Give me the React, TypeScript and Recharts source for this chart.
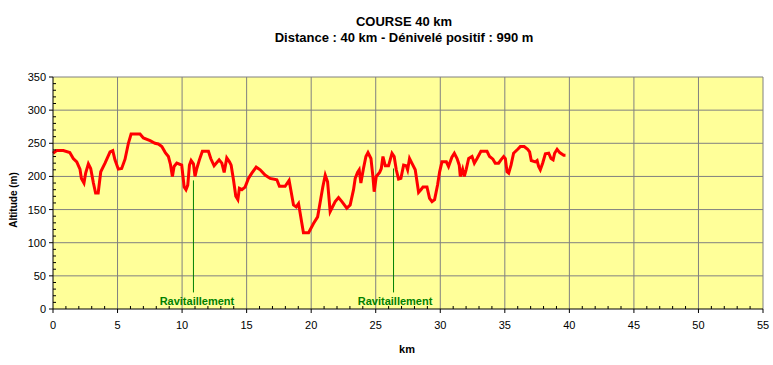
import React from 'react';
import {
  LineChart,
  Line,
  XAxis,
  YAxis,
  CartesianGrid,
  ReferenceLine,
  ReferenceDot,
} from 'recharts';

// distance (km) and altitude (m)
const distances = [
  0, 0.28, 0.8, 1.3, 1.57, 1.84, 2.09, 2.2, 2.4, 2.53, 2.74, 2.92, 3.13, 3.3, 3.5, 3.7, 4.03, 4.42, 4.63, 4.8,
  5.06, 5.32, 5.58, 5.84, 6.05, 6.74, 7.0, 7.52, 7.9, 8.16, 8.43, 8.7, 8.94, 9.1, 9.25, 9.38, 9.59, 9.97,
  10.16, 10.3, 10.44, 10.57, 10.7, 10.88, 11.0, 11.14, 11.34, 11.57, 12.04, 12.22, 12.48, 12.87, 13.08, 13.26,
  13.46, 13.67, 13.8, 13.98, 14.16, 14.32, 14.44, 14.63, 14.88, 15.14, 15.4, 15.74, 16.05, 16.43, 16.82, 17.34,
  17.54, 17.98, 18.29, 18.42, 18.63, 18.84, 19.02, 19.15, 19.4, 19.8, 20.18, 20.5, 20.75, 20.9, 21.09, 21.27,
  21.47, 21.6, 21.86, 22.12, 22.38, 22.76, 23.02, 23.28, 23.41, 23.59, 23.72, 23.85, 24.05, 24.24, 24.4, 24.63,
  24.78, 24.88, 25.04, 25.3, 25.43, 25.56, 25.74, 25.99, 26.26, 26.43, 26.59, 26.77, 26.95, 27.16, 27.36, 27.47,
  27.62, 27.8, 28.06, 28.32, 28.5, 28.66, 28.97, 29.17, 29.36, 29.56, 29.79, 29.95, 30.13, 30.47, 30.64, 30.9,
  31.09, 31.3, 31.47, 31.55, 31.73, 31.86, 32.0, 32.2, 32.46, 32.64, 32.85, 33.15, 33.62, 33.82, 34.08, 34.26,
  34.52, 34.7, 34.91, 35.04, 35.17, 35.3, 35.48, 35.68, 36.0, 36.2, 36.5, 36.77, 36.92, 37.05, 37.36, 37.5,
  37.62, 37.75, 37.93, 38.14, 38.4, 38.58, 38.74, 38.86, 39.05, 39.25, 39.56, 39.7,
];
const altitudes = [
  235, 239, 239, 236, 227, 222, 211, 197, 190, 205, 219, 212, 190, 175, 175, 207, 220, 237, 239, 225,
  211, 212, 226, 250, 264, 264, 258, 254, 250, 249, 245, 236, 230, 218, 200, 215, 220, 217,
  184, 180, 187, 217, 224, 219, 200, 212, 225, 238, 238, 227, 216, 225, 220, 206,
  228, 222, 217, 195, 170, 165, 182, 180, 184, 197, 205, 214, 210, 202, 197, 195,
  185, 185, 194, 180, 157, 154, 159, 144, 115, 115, 129, 139, 167, 184, 202, 192,
  147, 152, 162, 168, 162, 152, 157, 180, 197, 206, 210, 190, 212, 230, 236, 227,
  200, 177, 200, 206, 212, 230, 216, 216, 235, 230, 210, 196, 197, 217, 216, 210,
  227, 220, 210, 176, 180, 184, 184, 167, 162, 165, 187, 207, 222, 222, 215, 229,
  235, 227, 217, 200, 211, 200, 210, 227, 230, 220, 227, 238, 238, 230, 226, 220,
  220, 225, 230, 227, 207, 205, 217, 235, 241, 245, 245, 241, 237, 224, 222, 224,
  215, 210, 220, 234, 235, 227, 225, 235, 241, 236, 232, 232,
];

// supply points: km, top of marker line, label km
const supplyKm = [10.88, 26.38];
const supplyTop = [194, 212];
const supplyLabelKm = [11.15, 26.5];

const xTicks = Array.from({ length: 56 }, (_, i) => i);
const yTicks = Array.from({ length: 36 }, (_, i) => i * 10);
const xGrid = [5, 10, 15, 20, 25, 30, 35, 40, 45, 50, 55];
const yGrid = [50, 100, 150, 200, 250, 300, 350];

const data = distances.map((km, i) => ({ km, alt: altitudes[i] }));

const FONT = '"Liberation Sans", Arial, sans-serif';

const XTick = ({ x, y, payload }: any) => {
  const v = payload.value;
  if (v % 5 !== 0) {
    return <line x1={x} x2={x} y1={y - 3} y2={y} stroke="#000" />;
  }
  return (
    <g>
      <line x1={x} x2={x} y1={y} y2={y + 4} stroke="#000" />
      <text x={x} y={y + 20} textAnchor="middle" fontSize={11} fontFamily={FONT} fill="#000">
        {v}
      </text>
    </g>
  );
};

const YTick = ({ x, y, payload }: any) => {
  const v = payload.value;
  if (v % 50 !== 0) {
    return <line x1={x} x2={x + 3} y1={y} y2={y} stroke="#000" />;
  }
  return (
    <g>
      <line x1={x - 4} x2={x} y1={y} y2={y} stroke="#000" />
      <text x={x - 7} y={y + 4} textAnchor="end" fontSize={11} fontFamily={FONT} fill="#000">
        {v}
      </text>
    </g>
  );
};

export default function App() {
  return (
    <div style={{ position: 'absolute', left: 0, top: 0, width: 773, height: 365, background: '#fff', fontFamily: FONT }}>
      <div style={{ position: 'absolute', left: 404, top: 14, transform: 'translateX(-50%)', fontSize: 13, fontWeight: 'bold', whiteSpace: 'nowrap', lineHeight: '15px' }}>
        COURSE 40 km
      </div>
      <div style={{ position: 'absolute', left: 404, top: 30, transform: 'translateX(-50%)', fontSize: 13, fontWeight: 'bold', whiteSpace: 'nowrap', lineHeight: '15px' }}>
        Distance : 40 km - Dénivelé positif : 990 m
      </div>
      <div style={{ position: 'absolute', left: 13, top: 200, transform: 'translate(-50%,-50%) rotate(-90deg)', fontSize: 10, fontWeight: 'bold', whiteSpace: 'nowrap' }}>
        Altitude (m)
      </div>
      <div style={{ position: 'absolute', left: 407, top: 349, transform: 'translate(-50%,-50%)', fontSize: 11, fontWeight: 'bold' }}>
        km
      </div>
      <LineChart width={773} height={365} data={data} margin={{ top: 77, right: 10, left: 0, bottom: 0 }}>
        <CartesianGrid
          stroke="#808080"
          fill="#FFFF99"
          horizontalValues={yGrid}
          verticalValues={xGrid}
        />
        <XAxis
          type="number"
          dataKey="km"
          domain={[0, 55]}
          ticks={xTicks}
          interval={0}
          height={56}
          tickSize={0}
          tickMargin={0}
          tickLine={false}
          axisLine={{ stroke: '#000' }}
          tick={<XTick />}
        />
        <YAxis
          type="number"
          domain={[0, 350]}
          ticks={yTicks}
          interval={0}
          width={53}
          tickSize={0}
          tickMargin={0}
          tickLine={false}
          axisLine={{ stroke: '#000' }}
          tick={<YTick />}
        />
        {supplyKm.map((km, i) => (
          <ReferenceLine
            key={'l' + i}
            segment={[{ x: km, y: 25 }, { x: km, y: supplyTop[i] }]}
            stroke="#008000"
          />
        ))}
        {supplyLabelKm.map((km, i) => (
          <ReferenceDot
            key={'d' + i}
            x={km}
            y={12}
            r={0}
            stroke="none"
            fill="none"
            label={{ value: 'Ravitaillement', position: 'center', fill: '#008000', fontSize: 11, fontWeight: 'bold', fontFamily: FONT }}
          />
        ))}
        <Line
          type="linear"
          dataKey="alt"
          stroke="#FF0000"
          strokeWidth={3}
          dot={false}
          isAnimationActive={false}
        />
      </LineChart>
    </div>
  );
}
